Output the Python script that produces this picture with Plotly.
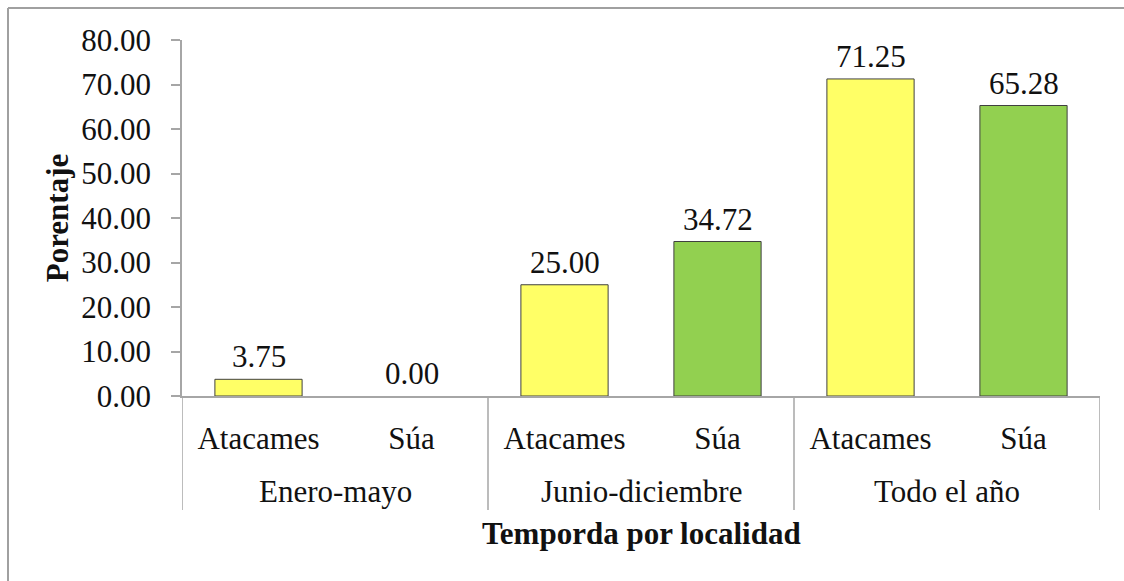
import plotly.graph_objects as go

# ---- data ----
temporadas = ["Enero-mayo", "Junio-diciembre", "Todo el año"]
localidades = ["Atacames", "Súa"]
atacames = [3.75, 25.00, 71.25]
sua = [0.00, 34.72, 65.28]
y_ticks = [0, 10, 20, 30, 40, 50, 60, 70, 80]

colors = {"Atacames": "#FFFF66", "Súa": "#92D050"}
FONT = "Liberation Serif"
GRID = "#A6A6A6"
FS = 31

# flatten into 6 category slots
labels, values, fills, groups = [], [], [], []
for i, t in enumerate(temporadas):
    for loc, series in zip(localidades, [atacames, sua]):
        labels.append(loc)
        values.append(series[i])
        fills.append(colors[loc])
        groups.append(t)
xs = list(range(len(values)))

fig = go.Figure()
fig.add_trace(go.Bar(
    x=xs, y=values, width=0.57,
    marker=dict(color=fills,
                line=dict(color="#404040", width=[1 if v > 0 else 0 for v in values])),
    showlegend=False, hoverinfo="skip",
))

W, H = 1124, 581
ml, mr, mt, mb = 182, 24, 40, 185
pw, ph = W - ml - mr, H - mt - mb

def px2px(x):  # pixel -> paper x
    return (x - ml) / pw

def py2py(y):  # pixel -> paper y
    return (H - mb - y) / ph

annotations = []
# value labels
for x, v in zip(xs, values):
    annotations.append(dict(x=x, y=v, xref="x", yref="y", text=f"{v:.2f}",
                            showarrow=False, yanchor="bottom", yshift=3,
                            font=dict(family=FONT, size=FS, color="#111111")))
# group labels and separators
shapes = []
n_loc = len(localidades)
for gi, t in enumerate(temporadas):
    start = gi * n_loc - 0.5
    end = start + n_loc
    annotations.append(dict(x=(start + end) / 2, y=py2py(491), xref="x", yref="paper",
                            text=t, showarrow=False, yanchor="middle",
                            font=dict(family=FONT, size=FS, color="#111111")))
    for b in ([start, end] if gi == 0 else [end]):
        shapes.append(dict(type="line", xref="x", yref="paper", x0=b, x1=b,
                           y0=0, y1=py2py(510), line=dict(color=GRID, width=1.5)))
# axis title (x)
annotations.append(dict(x=0.5, y=py2py(533), xref="paper", yref="paper",
                        text="<b>Temporda por localidad</b>", showarrow=False,
                        yanchor="middle",
                        font=dict(family=FONT, size=FS, color="#111111")))
# outer chart-area border (top and left visible)
shapes.append(dict(type="line", xref="paper", yref="paper", x0=px2px(8), x1=px2px(1130),
                   y0=py2py(8), y1=py2py(8), line=dict(color="#A0A0A0", width=2)))
shapes.append(dict(type="line", xref="paper", yref="paper", x0=px2px(8), x1=px2px(8),
                   y0=py2py(8), y1=py2py(590), line=dict(color="#A0A0A0", width=2)))

fig.update_layout(
    width=W, height=H,
    margin=dict(l=ml, r=mr, t=mt, b=mb, autoexpand=False),
    paper_bgcolor="white", plot_bgcolor="white",
    font=dict(family=FONT, size=FS, color="#111111"),
    annotations=annotations, shapes=shapes,
    xaxis=dict(
        tickmode="array", tickvals=xs, ticktext=labels,
        range=[-0.5, len(xs) - 0.5],
        showline=True, linecolor=GRID, linewidth=1.5,
        ticks="", showgrid=False, zeroline=False,
        ticklabelstandoff=14,
        tickfont=dict(family=FONT, size=FS, color="#111111"),
    ),
    yaxis=dict(
        range=[0, 80], tickmode="array", tickvals=y_ticks,
        ticktext=[f"{v:.2f}" for v in y_ticks],
        showline=True, linecolor=GRID, linewidth=1.5,
        ticks="outside", ticklen=9, tickcolor=GRID, tickwidth=1.5,
        showgrid=False, zeroline=False,
        ticklabelstandoff=14,
        tickfont=dict(family=FONT, size=FS, color="#111111"),
        title=dict(text="<b>Porentaje</b>", standoff=3,
                   font=dict(family=FONT, size=FS, color="#111111")),
        automargin=False,
    ),
)

fig.write_html("out.html")
